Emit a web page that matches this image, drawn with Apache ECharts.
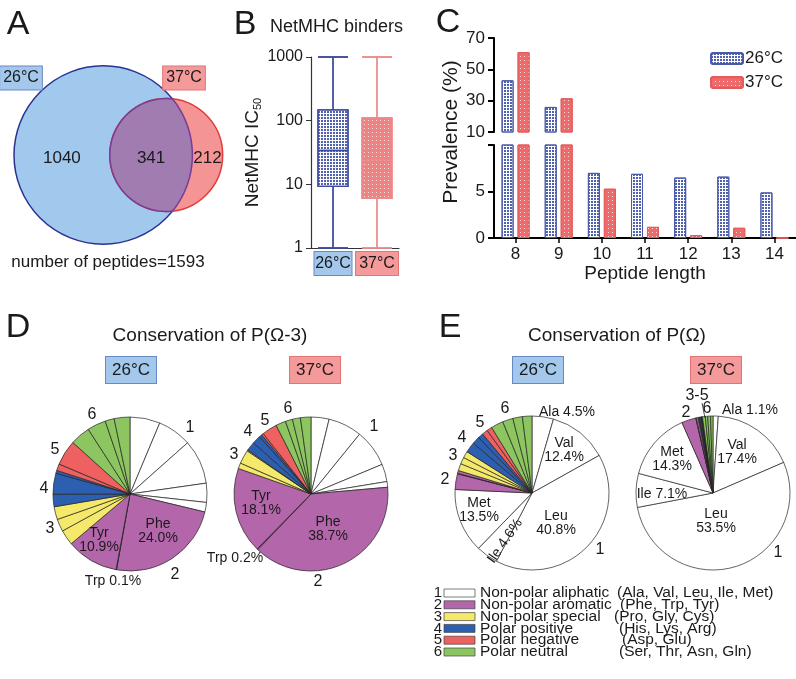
<!DOCTYPE html>
<html>
<head>
<meta charset="utf-8">
<script src="https://cdn.jsdelivr.net/npm/echarts/dist/echarts.min.js"></script>
<style>
  html, body { margin: 0; padding: 0; background: #fff; }
  #main { width: 796px; height: 679px; }
</style>
</head>
<body>
<div id="main"></div>
<script>
// ---- data ----
// A: venn counts (only 26°C, both, only 37°C)
var vennSets = ['26°C', '37°C'];
var vennCounts = [1040, 341, 212];

// B: NetMHC IC50 boxplot [min, Q1, median, Q3, max]
var tempLabels = ['26°C', '37°C'];
var ic50At26 = [1, 9.3, 34, 148, 1000];
var ic50At37 = [1, 6, 24, 111, 1000];

// C: prevalence (%) by peptide length
var lengths = ['8', '9', '10', '11', '12', '13', '14'];
var prev26 = [43, 26, 7.0, 6.9, 6.5, 6.6, 4.9];
var prev37 = [61, 31.5, 5.3, 1.2, 0.3, 1.1, 0];

// D/E: residue composition (%)
var residues = ['Ala', 'Val', 'Leu', 'Ile', 'Met', 'Phe', 'Trp', 'Tyr', 'Pro', 'Gly', 'Cys',
  'His', 'Lys', 'Arg', 'Asp', 'Glu', 'Ser', 'Thr', 'Asn', 'Gln'];
var residueGroup = [1, 1, 1, 1, 1, 2, 2, 2, 3, 3, 3, 4, 4, 4, 5, 5, 6, 6, 6, 6];
var omega3At26 = [6.3, 7.1, 9.3, 4.0, 2.0, 24.0, 0.1, 10.9, 3.2, 2.6, 2.7, 2.6, 4.4, 0.6, 1.4, 5.3, 4.2, 3.9, 1.9, 3.3];
var omega3At37 = [3.8, 7.1, 7.9, 3.7, 1.2, 38.7, 0.2, 18.1, 1.2, 2.9, 0.2, 1.9, 1.8, 0.6, 0.4, 3.2, 2.1, 1.5, 1.7, 2.2];
var omegaAt26 = [4.5, 12.4, 40.8, 4.6, 13.5, 3.3, 0.1, 0.6, 1.5, 1.4, 1.4, 2.2, 1.6, 1.1, 1.2, 1.1, 2.6, 2.2, 2.0, 2.0];
var omegaAt37 = [1.1, 17.4, 53.5, 7.1, 14.3, 3.0, 0.1, 0.4, 0.15, 0.1, 0.05, 0.3, 0.1, 0.05, 0.1, 0.05, 0.6, 0.5, 0.6, 0.5];
var groupNames = ['Non-polar aliphatic', 'Non-polar aromatic', 'Non-polar special',
  'Polar positive', 'Polar negative', 'Polar neutral'];

// ---- style ----
var FONT = '"Liberation Sans", Arial, sans-serif';
var INK = '#1a1a1a';
var groupColors = ['#ffffff', '#b466ab', '#f4e96a', '#2c5fb0', '#ef6060', '#8dc660'];
var blueBox = { bg: '#a4c8ec', border: '#6889c6' };
var redBox = { bg: '#f49a9a', border: '#e27474' };
var vennSpacing = 0.433;

var chart = echarts.init(document.getElementById('main'));

function txt(x, y, s, size, opt) {
  opt = opt || {};
  var st = {
    text: s, font: size + 'px ' + FONT, fill: opt.fill || INK,
    textAlign: opt.align || 'center', align: opt.align || 'center',
    textVerticalAlign: 'middle', verticalAlign: 'middle'
  };
  if (opt.box) {
    st.backgroundColor = opt.box.bg;
    st.borderColor = opt.box.border;
    st.borderWidth = 1;
    st.padding = opt.pad || [4, 6, 3, 6];
  }
  if (opt.lineHeight) st.lineHeight = opt.lineHeight;
  return { type: 'text', x: x, y: y, rotation: opt.rotation || 0, silent: true, z: 100, style: st };
}

var pieCenters = [[130, 494], [311, 494], [532, 493], [713, 493]];
function pieSeries(values, center) {
  return {
    type: 'pie', center: center, radius: [0, 77], startAngle: 90, clockwise: true,
    silent: true, label: { show: false }, labelLine: { show: false },
    itemStyle: { borderColor: '#222', borderWidth: 0.7 },
    emphasis: { disabled: true },
    data: values.map(function (v, i) {
      return { name: residues[i], value: v, itemStyle: { color: groupColors[residueGroup[i] - 1] } };
    })
  };
}

function upperPart(arr) {
  return arr.map(function (v) { return v > 10 ? v : '-'; });
}

var decal26 = { symbol: 'rect', symbolSize: 1, color: '#4e60ae', dashArrayX: [2, 1], dashArrayY: [2, 1] };
var decal37 = { symbol: 'rect', symbolSize: 1, color: 'rgba(255,255,255,0.75)', dashArrayX: [1, 3], dashArrayY: [1, 3] };
var bar26Style = { color: '#ffffff', borderColor: '#4a5aa8', borderWidth: 1, decal: decal26 };
var bar37Style = { color: '#ef6a6a', borderColor: '#e35c5c', borderWidth: 1, decal: decal37 };

// ---- annotations ----
var graphics = [];
graphics.push(txt(18, 25, 'A', 34));
graphics.push(txt(245, 25, 'B', 34));
graphics.push(txt(448, 23, 'C', 34));
graphics.push(txt(18, 328, 'D', 34));
graphics.push(txt(450, 328, 'E', 34));

graphics.push(txt(270, 27, 'NetMHC binders', 18, { align: 'left' }));
graphics.push(txt(451, 132, 'Prevalence (%)', 21, { rotation: Math.PI / 2 }));

graphics.push(txt(21, 78, vennSets[0], 16, { box: blueBox, pad: [4, 3, 3, 3] }));
graphics.push(txt(184, 78, vennSets[1], 16, { box: redBox, pad: [4, 3, 3, 3] }));
var vennTotal = vennCounts.reduce(function (s, v) { return s + v; }, 0);
graphics.push(txt(108, 262, 'number of peptides=' + vennTotal, 17));

graphics.push(txt(210, 336, 'Conservation of P(Ω-3)', 19));
graphics.push(txt(617, 336, 'Conservation of P(Ω)', 19));
[[131, tempLabels[0], blueBox], [315, tempLabels[1], redBox], [538, tempLabels[0], blueBox], [716, tempLabels[1], redBox]]
  .forEach(function (b) { graphics.push(txt(b[0], 370, b[1], 17, { box: b[2], pad: [5, 6, 4, 6] })); });

// pie slice notes
var pieNotes = [
  [omega3At26, 5, 158, 531, 'two'], [omega3At26, 7, 99, 540, 'two'], [omega3At26, 6, 113, 581, 'one'],
  [omega3At37, 5, 328, 529, 'two'], [omega3At37, 7, 261, 503, 'two'], [omega3At37, 6, 235, 558, 'one'],
  [omegaAt26, 0, 567, 412, 'one'], [omegaAt26, 1, 564, 450, 'two'], [omegaAt26, 2, 556, 523, 'two'],
  [omegaAt26, 4, 479, 510, 'two'], [omegaAt26, 3, 505, 541, 'rot'],
  [omegaAt37, 0, 750, 410, 'one'], [omegaAt37, 1, 737, 452, 'two'], [omegaAt37, 2, 716, 521, 'two'],
  [omegaAt37, 4, 672, 459, 'two'], [omegaAt37, 3, 662, 494, 'one']
];
pieNotes.forEach(function (n) {
  var pct = n[0][n[1]].toFixed(1) + '%';
  if (n[4] === 'two') {
    graphics.push(txt(n[2], n[3], residues[n[1]] + '\n' + pct, 14, { lineHeight: 14 }));
  } else if (n[4] === 'rot') {
    graphics.push(txt(n[2], n[3], residues[n[1]] + ' ' + pct, 14, { rotation: Math.PI * 55 / 180 }));
  } else {
    graphics.push(txt(n[2], n[3], residues[n[1]] + ' ' + pct, 14));
  }
});

var groupTags = [
  ['1', 190, 428], ['2', 175, 575], ['3', 50, 529], ['4', 44, 489], ['5', 55, 450], ['6', 92, 415],
  ['1', 374, 427], ['2', 318, 582], ['3', 234, 455], ['4', 248, 432], ['5', 265, 421], ['6', 288, 409],
  ['1', 600, 550], ['2', 445, 480], ['3', 453, 456], ['4', 462, 438], ['5', 480, 423], ['6', 505, 409],
  ['1', 778, 553], ['2', 686, 413], ['3-5', 697, 396], ['6', 707, 409]
];
groupTags.forEach(function (g) { graphics.push(txt(g[1], g[2], g[0], 16)); });
graphics.push({ type: 'line', silent: true, z: 100, shape: { x1: 702, y1: 403, x2: 705, y2: 418 },
  style: { stroke: '#222', lineWidth: 0.8 } });

// residue group legend
var residueCols = [617, 620, 614, 619, 622, 619];
groupNames.forEach(function (name, i) {
  var y = 593 + i * 11.8;
  var members = residues.filter(function (r, j) { return residueGroup[j] === i + 1; });
  graphics.push(txt(438, y, String(i + 1), 15));
  graphics.push({ type: 'rect', silent: true, z: 100, shape: { x: 444, y: y - 4, width: 31, height: 8 },
    style: { fill: groupColors[i], stroke: '#444', lineWidth: 0.7 } });
  graphics.push(txt(480, y, name, 15.5, { align: 'left' }));
  graphics.push(txt(residueCols[i], y, '(' + members.join(', ') + ')', 15.5, { align: 'left' }));
});

// ---- venn ----
function vennRender(params, api) {
  var n26 = vennCounts[0] + vennCounts[1];
  var n37 = vennCounts[1] + vennCounts[2];
  var r1u = Math.sqrt(n26), r2u = Math.sqrt(n37);
  var du = vennSpacing * (r1u + r2u);
  var p1 = api.coord([r1u, 0]);
  var p2 = api.coord([r1u + du, 0]);
  var k = api.size([1, 0])[0];
  var r1 = r1u * k, r2 = r2u * k, d = du * k;
  var a = (d * d + r1 * r1 - r2 * r2) / (2 * d);
  var h = Math.sqrt(r1 * r1 - a * a);
  var cy = p1[1];
  var pts = [];
  var i, t;
  var a1 = Math.atan2(-h, a - d), a2 = Math.atan2(h, a - d) - 2 * Math.PI;
  for (i = 0; i <= 80; i++) {
    t = a1 + (a2 - a1) * i / 80;
    pts.push([p2[0] + r2 * Math.cos(t), cy + r2 * Math.sin(t)]);
  }
  var b1 = Math.atan2(h, a), b2 = Math.atan2(-h, a);
  for (i = 0; i <= 60; i++) {
    t = b1 + (b2 - b1) * i / 60;
    pts.push([p1[0] + r1 * Math.cos(t), cy + r1 * Math.sin(t)]);
  }
  var ly = cy + 3;
  var font = '17px ' + FONT;
  function label(x, s) {
    return { type: 'text', style: { x: x, y: ly, text: s, font: font, fill: INK,
      textAlign: 'center', align: 'center', textVerticalAlign: 'middle', verticalAlign: 'middle' } };
  }
  return {
    type: 'group',
    children: [
      { type: 'circle', shape: { cx: p1[0], cy: cy, r: r1 }, style: { fill: '#a0c9ed', stroke: '#2b3390', lineWidth: 1.5 } },
      { type: 'circle', shape: { cx: p2[0], cy: cy, r: r2 }, style: { fill: '#f49494', stroke: '#e23b3b', lineWidth: 1.5 } },
      { type: 'polygon', shape: { points: pts }, style: { fill: '#a07cb1', stroke: '#7a3a95', lineWidth: 1.5 } },
      label((p1[0] - r1 + p2[0] - r2) / 2, String(vennCounts[0])),
      label((p2[0] - r2 + p1[0] + r1) / 2, String(vennCounts[1])),
      label((p1[0] + r1 + p2[0] + r2) / 2, String(vennCounts[2]))
    ]
  };
}

var option = {
  animation: false,
  textStyle: { fontFamily: FONT },
  grid: [
    { left: 14, top: 35, width: 240, height: 240, outerBoundsMode: 'none' },
    { left: 311, top: 57, width: 88, height: 191, outerBoundsMode: 'none' },
    { left: 494, top: 38, width: 302, height: 94, outerBoundsMode: 'none' },
    { left: 494, top: 145, width: 302, height: 93, outerBoundsMode: 'none' }
  ],
  xAxis: [
    { type: 'value', gridIndex: 0, min: 0, max: 100, show: false },
    {
      type: 'category', gridIndex: 1, data: tempLabels,
      axisLine: { show: true, lineStyle: { color: '#333', width: 1.2 } },
      axisTick: { show: false },
      axisLabel: {
        margin: 4, interval: 0,
        formatter: function (v, i) { return '{c' + i + '|' + v + '}'; },
        rich: {
          c0: { fontSize: 16, color: INK, backgroundColor: blueBox.bg, borderColor: blueBox.border, borderWidth: 1,
            width: 37, height: 22, align: 'center', padding: [1, 0, 0, 0] },
          c1: { fontSize: 16, color: INK, backgroundColor: redBox.bg, borderColor: redBox.border, borderWidth: 1,
            width: 42, height: 22, align: 'center', padding: [1, 0, 0, 0] }
        }
      }
    },
    { type: 'category', gridIndex: 2, data: lengths, show: false },
    {
      type: 'category', gridIndex: 3, data: lengths,
      axisLine: { show: true, lineStyle: { color: '#000', width: 2 } },
      axisTick: { show: true, alignWithLabel: true, length: 5, lineStyle: { color: '#000', width: 1.5 } },
      axisLabel: { fontSize: 17, color: INK, margin: 8 },
      name: 'Peptide length', nameLocation: 'middle', nameGap: 26,
      nameTextStyle: { fontSize: 19, color: INK }
    }
  ],
  yAxis: [
    { type: 'value', gridIndex: 0, min: -50, max: 50, show: false },
    {
      type: 'log', logBase: 10, gridIndex: 1, min: 1, max: 1000,
      axisLine: { show: true, lineStyle: { color: '#333', width: 1.2 } },
      axisTick: { show: true, length: 5, lineStyle: { color: '#333' } },
      minorTick: { show: false },
      axisLabel: { fontSize: 16, color: INK, margin: 8,
        formatter: function (v) { return String(Math.round(v)); } },
      splitLine: { show: false },
      name: '{a|NetMHC IC}{s|50}', nameLocation: 'middle', nameGap: 41, nameRotate: 90,
      nameTextStyle: {
        rich: {
          a: { fontSize: 19, color: INK, lineHeight: 22 },
          s: { fontSize: 11, color: INK, lineHeight: 22, verticalAlign: 'bottom' }
        }
      }
    },
    {
      type: 'value', gridIndex: 2, min: 10, max: 70, interval: 20,
      axisLine: { show: true, lineStyle: { color: '#000', width: 2 } },
      axisTick: { show: true, length: 6, lineStyle: { color: '#000', width: 2 } },
      axisLabel: { fontSize: 17, color: INK, margin: 9 },
      splitLine: { show: false }
    },
    {
      type: 'value', gridIndex: 3, min: 0, max: 10, interval: 5,
      axisLine: { show: true, lineStyle: { color: '#000', width: 2 } },
      axisTick: { show: true, length: 6, lineStyle: { color: '#000', width: 2 } },
      axisLabel: { fontSize: 17, color: INK, margin: 9,
        formatter: function (v) { return v === 10 ? '' : String(v); } },
      splitLine: { show: false }
    }
  ],
  legend: {
    left: 705, top: 45, orient: 'vertical', itemGap: 7, itemWidth: 32, itemHeight: 11,
    selectedMode: false, data: tempLabels,
    textStyle: { fontSize: 17, color: INK, padding: [0, 0, 0, -3] }
  },
  graphic: { elements: graphics },
  series: [
    {
      type: 'custom', xAxisIndex: 0, yAxisIndex: 0, silent: true,
      data: [[0, 0]], renderItem: vennRender
    },
    {
      type: 'boxplot', xAxisIndex: 1, yAxisIndex: 1, boxWidth: [30, 30], silent: true,
      data: [
        { value: ic50At26, itemStyle: { color: '#ffffff', borderColor: '#3d4b9e', borderWidth: 1.3, decal: decal26 } },
        { value: ic50At37, itemStyle: { color: '#ef8282', borderColor: '#ee8a8a', borderWidth: 1.3, decal: decal37 } }
      ]
    },
    { name: tempLabels[0], type: 'bar', xAxisIndex: 2, yAxisIndex: 2, data: upperPart(prev26),
      barWidth: 12, barGap: '33%', itemStyle: bar26Style, silent: true },
    { name: tempLabels[1], type: 'bar', xAxisIndex: 2, yAxisIndex: 2, data: upperPart(prev37),
      barWidth: 12, barGap: '33%', itemStyle: bar37Style, silent: true },
    { name: tempLabels[0], type: 'bar', xAxisIndex: 3, yAxisIndex: 3, data: prev26,
      barWidth: 12, barGap: '33%', itemStyle: bar26Style, clip: true, silent: true },
    { name: tempLabels[1], type: 'bar', xAxisIndex: 3, yAxisIndex: 3, data: prev37,
      barWidth: 12, barGap: '33%', itemStyle: bar37Style, clip: true, silent: true },
    pieSeries(omega3At26, pieCenters[0]),
    pieSeries(omega3At37, pieCenters[1]),
    pieSeries(omegaAt26, pieCenters[2]),
    pieSeries(omegaAt37, pieCenters[3])
  ]
};

chart.setOption(option);
</script>
</body>
</html>
